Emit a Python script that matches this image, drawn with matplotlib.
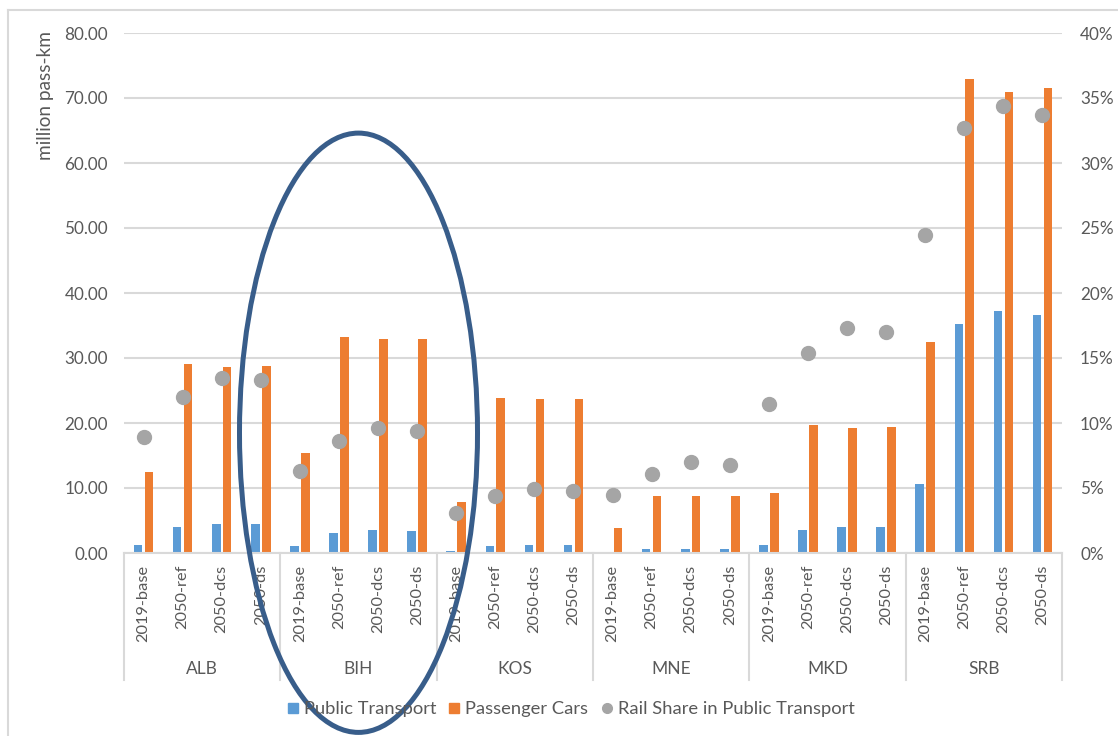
import numpy as np
import matplotlib
matplotlib.use("Agg")
import matplotlib.pyplot as plt
from matplotlib.patches import Ellipse
from matplotlib.lines import Line2D
from matplotlib.ticker import FuncFormatter, MultipleLocator

plt.rcParams["font.family"] = ["Lato", "DejaVu Sans"]

countries = ["ALB", "BIH", "KOS", "MNE", "MKD", "SRB"]
scenarios = ["2019-base", "2050-ref", "2050-dcs", "2050-ds"]

# million pass-km, ordered country by country, scenario by scenario
public_transport = [1.2, 4.0, 4.4, 4.4,
                    1.1, 3.1, 3.5, 3.4,
                    0.3, 1.1, 1.2, 1.2,
                    0.0, 0.6, 0.6, 0.6,
                    1.2, 3.5, 4.0, 4.0,
                    10.6, 35.3, 37.2, 36.6]
passenger_cars = [12.4, 29.1, 28.6, 28.8,
                  15.4, 33.2, 32.9, 32.9,
                  7.9, 23.8, 23.7, 23.7,
                  3.8, 8.7, 8.7, 8.7,
                  9.3, 19.7, 19.3, 19.4,
                  32.4, 72.9, 71.0, 71.6]
# share of rail in public transport
rail_share = [0.089, 0.120, 0.135, 0.133,
              0.063, 0.086, 0.096, 0.094,
              0.031, 0.044, 0.049, 0.048,
              0.045, 0.061, 0.070, 0.068,
              0.115, 0.154, 0.173, 0.170,
              0.245, 0.327, 0.344, 0.337]

BLUE = "#5B9BD5"
ORANGE = "#ED7D31"
GREY = "#A5A5A5"
TEXT = "#595959"
GRID = "#D9D9D9"
SHAPE = "#385D8A"

W, H = 1118, 736
fig = plt.figure(figsize=(W / 100, H / 100), dpi=100)
ax = fig.add_axes([124 / W, (H - 553) / H, (1062 - 124) / W, 520 / H])
ax2 = ax.twinx()

n = len(countries) * len(scenarios)
x = np.arange(n)
bw = 0.22
ax.bar(x - 0.14, public_transport, width=bw, color=BLUE, zorder=2)
ax.bar(x + 0.14, passenger_cars, width=bw, color=ORANGE, zorder=2)
ax2.plot(x, rail_share, linestyle="none", marker="o", markersize=10,
         color=GREY, zorder=3)

ax.set_xlim(-0.5, n - 0.5)
ax.set_ylim(0, 80)
ax2.set_ylim(0, 0.40)
ax.yaxis.set_major_locator(MultipleLocator(10))
ax2.yaxis.set_major_locator(MultipleLocator(0.05))
ax.yaxis.set_major_formatter(FuncFormatter(lambda v, p: f"{v:.2f}"))
ax2.yaxis.set_major_formatter(FuncFormatter(lambda v, p: f"{v * 100:.0f}%"))

ax.grid(axis="y", color=GRID, linewidth=1.5, zorder=0)
ax.set_axisbelow(True)
for a in (ax, ax2):
    for s in a.spines.values():
        s.set_visible(False)
    a.tick_params(axis="y", length=0, labelsize=12.3, labelcolor=TEXT)
ax.tick_params(axis="y", pad=11.5)
ax2.tick_params(axis="y", pad=13)
ax.set_xticks([])
ax2.set_xticks([])
ax.spines["bottom"].set_visible(True)
ax.spines["bottom"].set_color(GRID)
ax.spines["bottom"].set_linewidth(1.5)

# two-level category axis
xt = ax.get_xaxis_transform()
for i in range(n):
    ax.text(x[i], -0.023, scenarios[i % len(scenarios)], transform=xt,
            rotation=90, ha="center", va="top", fontsize=11.8, color=TEXT)
for g, c in enumerate(countries):
    lo = g * len(scenarios) - 0.5
    ax.plot([lo, lo], [0, -0.244], transform=xt, color=GRID, lw=1.5,
            clip_on=False)
    ax.text(lo + len(scenarios) / 2, -0.223, c, transform=xt,
            ha="center", va="center", fontsize=12.5, color=TEXT)
ax.plot([n - 0.5, n - 0.5], [0, -0.244], transform=xt, color=GRID, lw=1.5,
        clip_on=False)

fig.text(45 / W, 1 - 96 / H, "million pass-km", rotation=90, ha="center",
         va="center", fontsize=13.7, color=TEXT)

# highlight around the BIH group
ax.add_patch(Ellipse((5.5, 18.5), width=6.09, height=92.2, fill=False,
                     edgecolor=SHAPE, linewidth=3.6, zorder=10,
                     clip_on=False))

handles = [
    Line2D([], [], linestyle="none", marker="s", markersize=7, color=BLUE),
    Line2D([], [], linestyle="none", marker="s", markersize=7, color=ORANGE),
    Line2D([], [], linestyle="none", marker="o", markersize=7, color=GREY),
]
fig.legend(handles, ["Public Transport", "Passenger Cars",
                     "Rail Share in Public Transport"],
           loc="center", bbox_to_anchor=(570 / W, 1 - 709 / H), ncol=3,
           frameon=False, fontsize=13.2, labelcolor=TEXT, handlelength=0.8,
           handletextpad=0.2, columnspacing=0.6)

# chart area frame
fig.add_artist(Line2D([8 / W, 8 / W], [0, 1 - 10 / H], color=GRID, lw=1.5))
fig.add_artist(Line2D([8 / W, 1], [1 - 10 / H, 1 - 10 / H], color=GRID, lw=1.5))

fig.savefig("out.png", dpi=100, facecolor="white")
